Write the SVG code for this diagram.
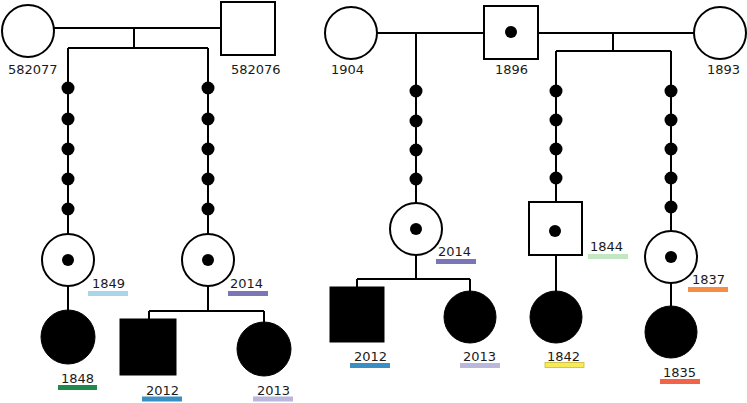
<svg xmlns="http://www.w3.org/2000/svg" width="747" height="403" viewBox="0 0 747 403">
<style>
.ln{stroke:#000;stroke-width:2;fill:none}
.open{fill:#fff;stroke:#000;stroke-width:2}
.fill{fill:#000;stroke:#000;stroke-width:1}
.dot{fill:#000}
text{font-family:"DejaVu Sans",Verdana,sans-serif;font-size:13px;fill:#1a1a1a}
</style>
<rect width="747" height="403" fill="#fff"/>
<g id="connectors">
<path class="ln" d="M54 28H221M134 28V48M68 48H208M68 48V234M208 48V234M68 286V310M208 286V311M149 311H264M149 311V319M264 311V322"/>
<path class="ln" d="M377 33H483M538 33H694M416 33V203M613 33V51M556 51H671M556 51V202M671 51V231M416 255V279M357 279H470M357 279V287M470 279V291M556 255V291M671 283V306"/>
<g class="dot">
<circle cx="68" cy="88" r="6.5"/><circle cx="68" cy="119" r="6.5"/><circle cx="68" cy="149" r="6.5"/><circle cx="68" cy="179" r="6.5"/><circle cx="68" cy="209" r="6.5"/>
<circle cx="208" cy="88" r="6.5"/><circle cx="208" cy="119" r="6.5"/><circle cx="208" cy="149" r="6.5"/><circle cx="208" cy="179" r="6.5"/><circle cx="208" cy="209" r="6.5"/>
<circle cx="416" cy="91" r="6.5"/><circle cx="416" cy="121" r="6.5"/><circle cx="416" cy="150" r="6.5"/><circle cx="416" cy="179" r="6.5"/>
<circle cx="556" cy="91" r="6.5"/><circle cx="556" cy="120" r="6.5"/><circle cx="556" cy="149" r="6.5"/><circle cx="556" cy="178" r="6.5"/>
<circle cx="671" cy="91" r="6.5"/><circle cx="671" cy="120" r="6.5"/><circle cx="671" cy="149" r="6.5"/><circle cx="671" cy="178" r="6.5"/><circle cx="671" cy="207" r="6.5"/>
</g>
</g>
<g id="n582077"><circle class="open" cx="28" cy="31" r="26"/><text x="8" y="74">582077</text></g>
<g id="n582076"><rect class="open" x="221" y="2" width="54" height="53"/><text x="231" y="74">582076</text></g>
<g id="n1849"><circle class="open" cx="68" cy="260" r="26"/><circle class="dot" cx="68" cy="260" r="6"/><text x="92" y="288">1849</text><rect x="88" y="291" width="40" height="5" fill="#a9d5e8"/></g>
<g id="n1848"><circle class="fill" cx="68" cy="337" r="27"/><text x="61" y="383">1848</text><rect x="58" y="385" width="39" height="5" fill="#1e8a4c"/></g>
<g id="n2014a"><circle class="open" cx="208" cy="260" r="26"/><circle class="dot" cx="208" cy="260" r="6"/><text x="230" y="288">2014</text><rect x="228" y="291" width="40" height="5" fill="#7b77b6"/></g>
<g id="n2012a"><rect class="fill" x="120" y="319" width="56" height="56"/><text x="146" y="395">2012</text><rect x="142" y="396.5" width="40" height="5" fill="#3a8fc2"/></g>
<g id="n2013a"><circle class="fill" cx="264" cy="349" r="27"/><text x="257" y="395">2013</text><rect x="253" y="396.5" width="40" height="5" fill="#b9b7db"/></g>
<g id="n1904"><circle class="open" cx="351" cy="33" r="26"/><text x="331" y="74">1904</text></g>
<g id="n1896"><rect class="open" x="484" y="6" width="54" height="53"/><circle class="dot" cx="511" cy="32" r="6"/><text x="495" y="74">1896</text></g>
<g id="n1893"><circle class="open" cx="720" cy="33" r="26"/><text x="707" y="74">1893</text></g>
<g id="n2014b"><circle class="open" cx="416" cy="229" r="26"/><circle class="dot" cx="416" cy="229" r="6"/><text x="438" y="256">2014</text><rect x="436" y="259" width="40" height="5" fill="#7b77b6"/></g>
<g id="n2012b"><rect class="fill" x="330" y="287" width="54" height="55"/><text x="354" y="361">2012</text><rect x="350" y="363" width="40" height="5" fill="#3a8fc2"/></g>
<g id="n2013b"><circle class="fill" cx="470" cy="317" r="26"/><text x="463" y="361">2013</text><rect x="460" y="363" width="40" height="5" fill="#b9b7db"/></g>
<g id="n1844"><rect class="open" x="529" y="202" width="53" height="53"/><circle class="dot" cx="555" cy="231" r="6"/><text x="590" y="251">1844</text><rect x="588" y="254" width="40" height="5" fill="#c3e6c3"/></g>
<g id="n1842"><circle class="fill" cx="556" cy="317" r="26"/><text x="547" y="361">1842</text><rect x="545" y="362.5" width="39" height="5" fill="#f6ea55" stroke="#c9b93a" stroke-width="0.8"/></g>
<g id="n1837"><circle class="open" cx="671" cy="257" r="26"/><circle class="dot" cx="671" cy="257" r="6"/><text x="692" y="284">1837</text><rect x="688" y="287" width="40" height="5" fill="#f58d44"/></g>
<g id="n1835"><circle class="fill" cx="671" cy="332" r="26"/><text x="663" y="377">1835</text><rect x="660" y="379" width="40" height="5" fill="#f2644a"/></g>
</svg>
